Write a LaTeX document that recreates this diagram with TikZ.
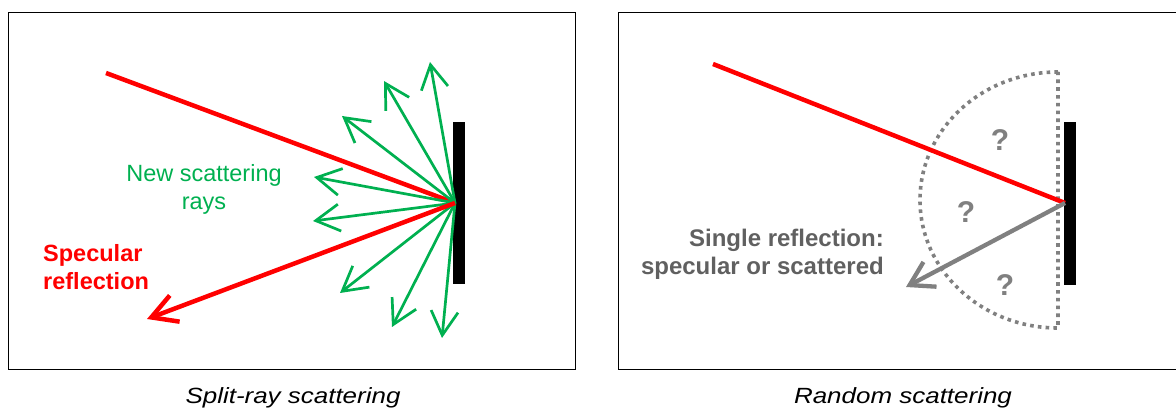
\documentclass[tikz,border=0pt]{standalone}
\usepackage{fontspec}
\setmainfont{Liberation Sans}
\usepackage{graphicx}
\usetikzlibrary{arrows.meta}
\definecolor{myred}{RGB}{255,0,0}
\definecolor{mygreen}{RGB}{0,176,80}
\definecolor{mygray}{RGB}{128,128,128}
\definecolor{txtgray}{RGB}{96,96,96}
\tikzset{
  panel/.style={draw=black, line width=1.6pt},
  mirror/.style={fill=black, draw=none},
  redray/.style={draw=myred, line width=4.5pt},
  redarrow/.style={redray, -{Straight Barb[length=25pt,width=28pt,line width=4.5pt]}},
  greenarrow/.style={draw=mygreen, line width=2.7pt, -{Straight Barb[length=24pt,width=27pt,line width=2.7pt]}},
  grayarrow/.style={draw=mygray, line width=4.3pt, -{Straight Barb[length=23pt,width=28pt,line width=4.3pt]}},
  dotarc/.style={draw=mygray, line width=3.6pt, dash pattern=on 3.6pt off 4.2pt},
  lbl/.style={inner sep=0pt, font=\fontsize{23.5}{28}\selectfont},
  qmark/.style={inner sep=0pt, text=mygray, font=\fontsize{30}{32}\selectfont\bfseries},
  caption/.style={inner sep=0pt, font=\fontsize{22}{25}\selectfont\itshape},
}
\begin{document}
\begin{tikzpicture}[x=1pt,y=-1pt]
\useasboundingbox (0,0) rectangle (1176,411);
% panels
\draw[panel] (8.5,12.5) rectangle (575.5,369.5);
\draw[panel] (618.5,12.5) rectangle (1190,369.5);
% ---------- left panel ----------
\fill[mirror] (453,122) rectangle (465,284);
\coordinate (c1) at (455,203);
\coordinate (src1) at (106,73);
\coordinate (spec1) at (147,319);
\draw[redray] (src1) -- (c1);
\foreach \n/\x/\y in {g1/430/62, g2/384/81, g3/342/116, g4/314/177, g5/313/221, g6/340/293, g7/392/327, g8/442/338} {
  \coordinate (\n) at (\x,\y);
  \draw[greenarrow] (c1) -- (\n);
}
\draw[redarrow] (c1) -- (spec1);
\node[lbl, text=mygreen, align=center, anchor=base] (nsr) at (204,210) {New scattering\\rays};
\node[lbl, text=myred, align=left, anchor=base west, font=\fontsize{23.5}{28}\selectfont\bfseries] (spl) at (43,290) {Specular\\reflection};
\node[caption, anchor=base] (cap1) at (293,404) {\scalebox{1.18}[1]{Split-ray scattering}};
% ---------- right panel ----------
\fill[mirror] (1064,122) rectangle (1076,285);
\coordinate (c2) at (1065,203);
\coordinate (src2) at (713,64);
\coordinate (tip2) at (906,287);
\draw[dotarc] (1058,72) arc[start angle=270, end angle=90, x radius=138, y radius=128] -- cycle;
\draw[redray] (src2) -- (c2);
\draw[grayarrow] (c2) -- (tip2);
\node[qmark] (q1) at (1000,140) {?};
\node[qmark] (q2) at (966,212) {?};
\node[qmark] (q3) at (1005,285) {?};
\node[lbl, text=txtgray, align=right, anchor=base east, font=\fontsize{24}{28}\selectfont\bfseries] (srl) at (884,275) {Single reflection:\\specular or scattered};
\node[caption, anchor=base] (cap2) at (903,404) {\scalebox{1.18}[1]{Random scattering}};
\end{tikzpicture}
\end{document}
